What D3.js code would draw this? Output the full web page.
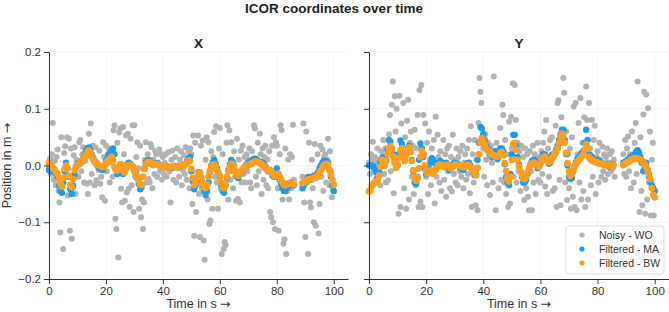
<!DOCTYPE html>
<html>
<head>
<meta charset="utf-8">
<script src="https://cdn.jsdelivr.net/npm/d3@7"></script>
<style>
  body { margin: 0; background: #fff; }
  svg { font-family: "Liberation Sans", Arial, sans-serif; }
</style>
</head>
<body>
<svg id="chart" width="669" height="312"></svg>
<script>
// values in millimetres
const chartTitle = "ICOR coordinates over time";
const panelNames = ["X", "Y"];
const seriesNames = ["Noisy - WO", "Filtered - MA", "Filtered - BW"];
const seriesColors = ["#b2b2b2", "#1a9bf1", "#fd9e1f"];
const seriesRadius = [3, 3.2, 3.4];
const xTicks = [0, 20, 40, 60, 80, 100];
const yTicks = [-0.2, -0.1, 0, 0.1, 0.2];

// sample spacing in seconds
const noisyStep = 1 / 3;
const maStep = 0.5;
const bwStep = 0.5;

const xNoisy = [
  -5, 12, -15, 20, 75, -25, 8, -35, 15, 28, -44, -65, -118, 50, -30, -147, 22, 34, -20, 50, -53, 47, -115, 30, -129, -40, 18, 32, -50, 10,
  5, -20, 41, 45, -10, 20, 32, -30, 8, 15, -32, -50, 56, -30, 74, -15, 35, 10, -35, 32, -26, 5, -8, 26, -32, -20, -56, 41, 15, -62,
  35, -10, 20, 30, -30, 5, 15, -20, 62, 71, -94, -112, 40, -162, 58, 65, -41, -65, 68, 20, -62, 53, -47, 56, -41, -73, 47, -35, 71, -82,
  71, -20, 15, 41, -5, -76, 35, -91, -60, -112, -65, 10, 41, -30, 20, -24, -30, 38, 32, -40, 10, -15, 25, 20, -20, 5, 28, -10, 20, -25,
  15, -15, 5, 20, -20, -5, 24, -10, -65, 10, 26, -25, 0, 15, -30, 30, -5, -20, 10, 25, -35, -8, 18, -15, 32, -25, 5, 25, -40, 30,
  20, -68, 53, -124, 40, -82, -30, 53, -50, -126, 35, -40, 44, -132, -166, 10, 50, -60, 41, -103, -97, 25, -76, 15, 59, -20, 69, -30, -76, 30,
  66, -40, -156, 20, -147, -135, -140, 40, 71, -60, 62, -25, 41, -10, -40, 25, -20, -62, 47, -59, 10, -65, 26, -30, 35, -15, 15, -30, 20, -10,
  10, 30, -30, -40, 25, 5, 71, 65, -20, -35, 40, -10, 56, 20, -50, 30, -25, 15, 35, -35, 10, -40, 25, -82, -91, 35, -100, 50, -112, 41,
  35, -40, -115, 20, 71, 62, -60, -138, -130, 30, -156, -45, 10, -60, 20, -40, 15, 72, -25, null, null, null, null, null, null, null, null, -20, 74, -65,
  -126, 60, -30, -156, 40, -65, -74, 10, -40, -100, 38, -106, -15, 20, -120, -68, 35, -20, 28, -45, 15, 20, -30, 10, 47, -35, 25, -10, -56, -44
];

const xMa = [
  -8, -10, -2, -6, -12, -15, -20, -35, -45, -48, -30, -10, 5, -5, -20, -42, -50, -35, -15, -3,
  3, 2, 5, 8, 12, 18, 25, 30, 32, 28, 20, 14, 8, 3, 0, -3, -5, -7, -8, 0,
  8, 12, 18, 22, 28, 30, 20, -5, -15, -8, 0, -5, -15, -12, -5, 2, 5, 3, 0, -5,
  -10, -15, -22, -32, -42, -38, -20, -5, 5, 8, 10, 8, 3, 1, 2, 4, 4, 2, 0, -1,
  -2, -3, -3, -2, -2, -3, -4, -3, -3, -2, -1, -2, -2, -1, 0, 1, 3, 8, 12, 15,
  -10, -28, -42, -35, -20, -12, -15, -25, -35, -45, -52, -45, -30, -12, 0, 6, 10, 3, -5, -12,
  -20, -35, -45, -48, -35, -22, -8, 2, 10, 6, 0, -10, -18, -22, -15, -12, -8, -4, 0, 2,
  5, 6, 8, 10, 12, 12, 10, 8, 5, 6, 5, 2, -2, -6, -10, -8, -12, -18, -20, -12,
  -5, -15, -25, -32, -40, -45, -45, -40, -38, -33, -30, -32, -35, null, null, null, null, null, -40, -35,
  -30, -25, -20, -22, -25, -20, -18, -22, -20, -12, -5, 0, 5, 8, 8, 7, 5, -8, -20, -35,
  -45
];

const xBw = [
  4, 3, -2, -5, -8, -12, -15, -24, -32, -37, -22, -6, 0, -5, -18, -34, -38, -24, -8, -1,
  1, 2, 4, 6, 10, 15, 19, 23, 26, 22, 16, 12, 7, 4, 2, 0, -1, -2, -3, 0,
  4, 7, 10, 12, 15, 9, -3, -7, -9, -4, 2, 1, -8, -12, -6, -1, 0, 1, 0, -3,
  -8, -13, -20, -26, -32, -34, -20, -6, 2, 5, 7, 6, 3, 1, 2, 3, 2, 1, 0, -1,
  -2, -3, -3, -3, -3, -3, -3, -2, -2, -2, -1, -1, -1, -1, 0, 0, 2, 5, 9, 8,
  -6, -22, -34, -30, -20, -12, -12, -22, -32, -38, -40, -33, -20, -10, -3, 1, 2, -2, -8, -14,
  -20, -30, -38, -40, -32, -20, -10, -2, 3, 2, -4, -10, -16, -18, -14, -10, -7, -4, -1, 0,
  1, 2, 3, 4, 6, 7, 7, 6, 4, 3, 1, -2, -5, -7, -8, -9, -10, -14, -18, -17,
  -15, -16, -20, -25, -30, -34, -35, -33, -32, -32, -31, -32, -33, null, null, null, null, null, -31, -30,
  -28, -26, -25, -24, -24, -23, -22, -21, -20, -17, -13, -9, -4, 0, 2, 3, 0, -8, -16, -25,
  -34
];

const yNoisy = [
  5, -15, 20, 10, 42, -10, 15, -25, 5, 30, -20, 10, -35, 25, 15, 45, -15, 30, -30, 20, -26, 55, 89, -10, 107, 148, -49, 122, 60, 100,
  20, -85, 123, -73, 74, 30, 110, -40, 50, -76, 79, 116, -60, 40, 60, -20, 35, -50, 63, -35, 30, 89, -73, 133, -64, 142, -73, 89, 20, 74,
  -20, 40, -50, 60, 10, -35, 30, -15, 45, -67, 86, -20, 54, 15, -30, 25, -45, 5, 45, -25, 20, -55, 30, -10, 35, -40, 15, -46, 54, -15,
  10, -30, 30, -35, 15, -10, 25, -20, 35, -40, 5, 20, -25, 30, -15, 45, -49, 69, -73, 20, -30, 45, -70, 10, -79, 75, 154, 130, 110, 50,
  30, -20, 55, 10, -35, 40, 20, -52, 35, 5, -30, 157, 25, -79, 40, 10, -40, 30, 66, -25, 107, 89, -30, 45, -50, 20, -73, 77, -67, 86,
  30, 145, -20, 142, 80, -30, 40, -10, 25, -45, 35, -20, 15, -61, 30, -40, 20, -55, -79, 25, -10, -79, 35, -30, 20, -50, 10, 40, -25, 15,
  -30, 25, -15, 40, 60, -37, 80, -50, 30, -20, 45, 5, 50, -45, 20, -40, 70, -73, 110, 115, -25, -70, 85, 40, 154, 128, -30, 60, -61, 20,
  -40, 30, -76, 50, -55, 104, -73, 110, -79, 20, 75, -30, 119, -60, 40, -45, 85, -73, 139, 80, -60, 110, 30, -35, 80, -20, 45, 70, -50, 15,
  25, -30, 40, 10, -20, 33, -10, 20, -25, 15, 30, -15, 5, 20, -10, 25, -5, 10, -20, null, null, null, null, null, null, null, null, 20, -15, 45,
  -20, 30, 51, -10, 20, -40, 60, 10, -30, 40, 75, -15, 148, 25, -82, 50, -45, -70, 90, 130, -85, 125, -60, 101, -30, 60, -88, 10, 40, -88
];

const yMa = [
  0, 0, 0, -2, -5, -12, -20, -10, 5, 12, 15, 8, 10, 28, 45, 42, 30, 20, 10, 2,
  0, 20, 44, 38, 20, 12, 20, 30, 35, 25, 10, -10, -30, -32, -20, 10, 39, 30, 15, -5,
  -15, -12, -5, 5, 13, 10, 5, 2, 0, 4, 8, 4, 0, 3, 5, 0, -8, -4, 0, 3,
  5, 4, 3, 0, -3, -6, -8, -3, 2, 4, 5, 0, -5, -12, -17, -15, 10, 40, 68, 65,
  55, 45, 35, 30, 28, 20, 15, 20, 25, 18, 12, 20, 30, 30, 25, 2, -20, -30, -35, -15,
  20, 54, 54, 35, 15, 2, -10, -20, -30, -30, -25, -15, -5, 2, 8, 10, 10, 2, -5, -2,
  5, 12, 20, 20, 15, 8, 3, 10, 18, 20, 22, 28, 35, 45, 55, 63, 63, 45, 20, 0,
  -20, -24, -22, -10, 0, 6, 12, 15, 18, 22, 25, 40, 63, 45, 20, 18, 15, 10, 8, 10,
  10, 8, 5, 3, 2, 3, 3, 0, -2, 0, 2, 1, null, null, null, null, null, null, 5, 6,
  8, 10, 12, 14, 15, 18, 20, 24, 27, 22, 15, 5, -10, -2, 5, -8, -20, -28, -35, -40,
  -45
];

const yBw = [
  -46, -44, -36, -33, -30, -29, -27, -18, -2, 10, 6, 0, 8, 20, 30, 34, 28, 16, 5, -4,
  2, 14, 26, 30, 18, 8, 18, 28, 32, 24, 8, -8, -20, -27, -22, -5, 15, 26, 18, 0,
  -10, -14, -12, -8, -12, -14, -10, -5, -1, 1, 2, 0, -2, -3, 0, 1, -2, -5, -4, -1,
  1, 2, 1, 0, -1, -2, -3, -2, 0, 1, 0, -3, -6, -10, -14, -17, -4, 20, 40, 48,
  44, 36, 30, 27, 25, 22, 20, 18, 17, 16, 16, 18, 22, 24, 18, 4, -10, -22, -28, -20,
  10, 38, 40, 28, 10, -2, -10, -16, -22, -24, -20, -12, -6, 0, 3, 5, 4, 1, -1, -2,
  3, 10, 14, 16, 10, 7, 6, 8, 12, 16, 20, 24, 30, 40, 50, 56, 52, 40, 22, 4,
  -10, -18, -16, -8, -2, 3, 7, 10, 13, 16, 19, 28, 38, 30, 15, 11, 9, 8, 7, 6,
  5, 4, 3, 3, 2, 1, 1, 0, 0, 0, 0, 0, null, null, null, null, null, null, 1, 3,
  5, 6, 7, 9, 11, 12, 13, 13, 12, 11, 10, 9, 6, 2, -2, -8, -15, -24, -40, -52,
  -56
];

const width = 669,
  height = 312,
  panelTop = 52,
  panelBottom = 279,
  panelSpans = [[49, 348], [369, 669]],
  xDomain = [0, 105],
  mmToM = 0.001;

const panels = [
  { name: panelNames[0], series: [xNoisy, xMa, xBw], span: panelSpans[0] },
  { name: panelNames[1], series: [yNoisy, yMa, yBw], span: panelSpans[1] },
];
const steps = [noisyStep, maStep, bwStep];

function toPoints(values, step) {
  return values
    .map((v, i) => ({ t: i * step, v: v }))
    .filter(d => d.v !== null);
}

// label with the arrow glyph taken from DejaVu, as in the original
function arrowLabel(sel, label) {
  sel.append("tspan").text(label + " ");
  sel.append("tspan").attr("font-family", "DejaVu Sans").text("→");
}

const svg = d3.select("#chart");

const yScale = d3.scaleLinear()
  .domain([-0.2, 0.2])
  .range([panelBottom, panelTop]);

svg.append("text")
  .attr("x", 334)
  .attr("y", 13)
  .attr("text-anchor", "middle")
  .attr("font-size", 13.5)
  .attr("font-weight", "bold")
  .attr("fill", "#222")
  .text(chartTitle);

panels.forEach((p, pi) => {
  const xScale = d3.scaleLinear().domain(xDomain).range(p.span);
  const g = svg.append("g").attr("class", "panel");

  // grid
  g.selectAll(".vgrid")
    .data(xTicks)
    .join("line")
    .attr("class", "vgrid")
    .attr("x1", d => xScale(d))
    .attr("x2", d => xScale(d))
    .attr("y1", panelTop)
    .attr("y2", panelBottom)
    .attr("stroke", "#f1f1f1")
    .attr("stroke-width", 0.8);

  g.selectAll(".hgrid")
    .data(yTicks)
    .join("line")
    .attr("class", "hgrid")
    .attr("x1", p.span[0])
    .attr("x2", p.span[1])
    .attr("y1", d => yScale(d))
    .attr("y2", d => yScale(d))
    .attr("stroke", "#f1f1f1")
    .attr("stroke-width", 0.8);

  // dots: noisy, MA, BW
  p.series.forEach((values, si) => {
    g.append("g")
      .selectAll("circle")
      .data(toPoints(values, steps[si]))
      .join("circle")
      .attr("cx", d => xScale(d.t))
      .attr("cy", d => yScale(d.v * mmToM))
      .attr("r", seriesRadius[si])
      .attr("fill", seriesColors[si]);
  });

  const xAxis = d3.axisBottom(xScale)
    .tickValues(xTicks)
    .tickSize(5)
    .tickSizeOuter(0)
    .tickPadding(3);

  const yAxis = d3.axisLeft(yScale)
    .tickValues(yTicks)
    .tickSize(5)
    .tickSizeOuter(0)
    .tickPadding(3)
    .tickFormat(pi === 0 ? d3.format(".1f") : "");

  g.append("g")
    .attr("class", "axis x-axis")
    .attr("transform", `translate(0,${panelBottom})`)
    .call(xAxis);

  g.append("g")
    .attr("class", "axis y-axis")
    .attr("transform", `translate(${p.span[0]},0)`)
    .call(yAxis);

  g.selectAll(".axis path, .axis line")
    .attr("stroke", "#333")
    .attr("stroke-width", 1);
  g.selectAll(".axis text")
    .attr("fill", "#333")
    .attr("font-size", 11.5)
    .attr("font-family", "Liberation Sans, Arial, sans-serif");

  const mid = (p.span[0] + p.span[1]) / 2;

  g.append("text")
    .attr("x", mid)
    .attr("y", 48)
    .attr("text-anchor", "middle")
    .attr("font-size", 13.5)
    .attr("font-weight", "bold")
    .attr("fill", "#222")
    .text(p.name);

  g.append("text")
    .attr("x", mid)
    .attr("y", 308)
    .attr("text-anchor", "middle")
    .attr("font-size", 12.5)
    .attr("fill", "#333")
    .call(arrowLabel, "Time in s");
});

svg.append("text")
  .attr("transform", `translate(11,${(panelTop + panelBottom) / 2}) rotate(-90)`)
  .attr("text-anchor", "middle")
  .attr("font-size", 12.5)
  .attr("fill", "#333")
  .call(arrowLabel, "Position in m");

// legend
const legend = svg.append("g").attr("transform", "translate(566,226)");

legend.append("rect")
  .attr("width", 98)
  .attr("height", 48)
  .attr("rx", 3)
  .attr("fill", "#fff")
  .attr("fill-opacity", 0.85)
  .attr("stroke", "#d6d6d6")
  .attr("stroke-width", 0.8);

legend.selectAll(".item")
  .data(seriesNames)
  .join("g")
  .attr("class", "item")
  .attr("transform", (d, i) => `translate(0,${9 + i * 14})`)
  .call(item => {
    item.append("circle")
      .attr("cx", 16)
      .attr("r", 2.6)
      .attr("fill", (d, i) => seriesColors[i]);
    item.append("text")
      .attr("x", 33)
      .attr("dy", "0.35em")
      .attr("font-size", 10.5)
      .attr("fill", "#333")
      .text(d => d);
  });
</script>
</body>
</html>
